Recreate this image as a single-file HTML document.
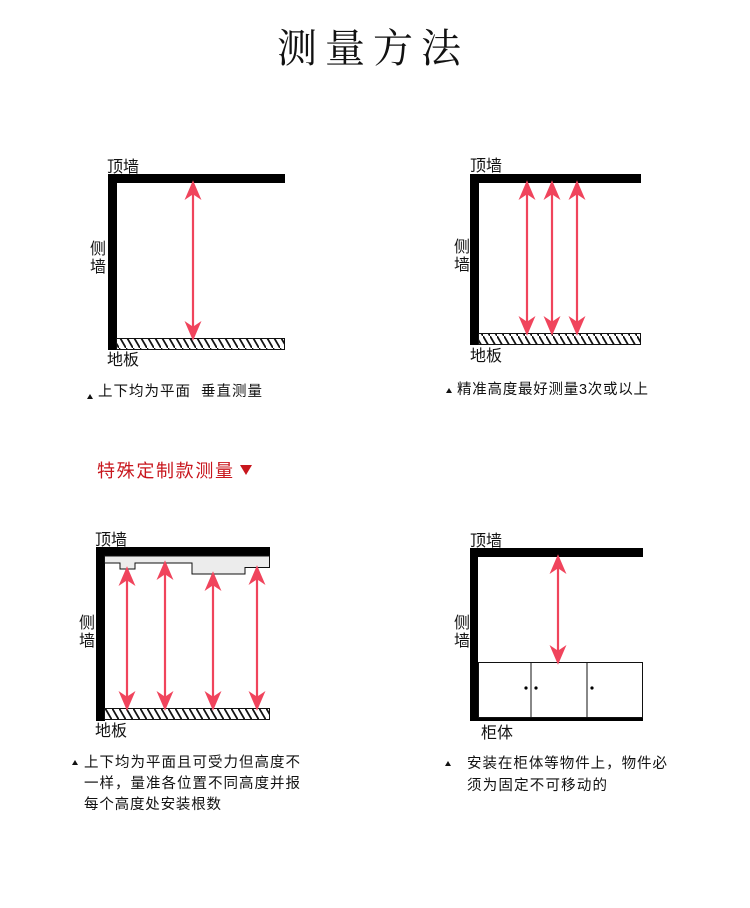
<!DOCTYPE html>
<html><head><meta charset="utf-8"><style>
html,body{margin:0;padding:0;background:#fff;}
svg{display:block;}
text{font-family:"Liberation Sans","Noto Sans CJK SC",sans-serif;fill:#111;}
</style></head><body>
<svg width="750" height="908" viewBox="0 0 750 908" xmlns="http://www.w3.org/2000/svg">
<defs>
<pattern id="h" width="7" height="12" patternUnits="userSpaceOnUse">
<line x1="-1" y1="-1.7" x2="8" y2="13.7" stroke="#111" stroke-width="1.8"/>
</pattern>
</defs>
<rect width="750" height="908" fill="#fff"/>
<text x="373" y="62" text-anchor="middle" style="font-family:'Noto Serif CJK SC',serif;font-size:40px;letter-spacing:8px;" fill="#111">测量方法</text>

<!-- Panel 1 -->
<g>
<rect x="108" y="174" width="177" height="9" fill="#000"/>
<rect x="108" y="174" width="9" height="176" fill="#000"/>
<rect x="116.5" y="338.5" width="168" height="11" fill="url(#h)" stroke="#111" stroke-width="1"/>
<g stroke="#f0445c" stroke-width="2.2" fill="#f0445c">
<line x1="193" y1="190" x2="193" y2="331"/>
<polygon points="193,183 187,197 193,193 199,197"/>
<polygon points="193,338 187,324 193,328 199,324"/>
</g>
<text x="107" y="172" font-size="16">顶墙</text>
<text x="90" y="254" font-size="16">侧</text>
<text x="90" y="272" font-size="16">墙</text>
<text x="107" y="365" font-size="16">地板</text>
<polygon points="90,394 87,399 93,399" fill="#111"/>
<text x="98" y="396" font-size="14.5" textLength="164" xml:space="preserve">上下均为平面  垂直测量</text>
</g>

<!-- Panel 2 -->
<g>
<rect x="470" y="174" width="171" height="9" fill="#000"/>
<rect x="470" y="174" width="9" height="171" fill="#000"/>
<rect x="478.5" y="333.5" width="162" height="11" fill="url(#h)" stroke="#111" stroke-width="1"/>
<g stroke="#f0445c" stroke-width="2.2" fill="#f0445c">
<line x1="527" y1="190" x2="527" y2="326"/>
<polygon points="527,183 521,197 527,193 533,197"/><polygon points="527,333 521,319 527,323 533,319"/>
<line x1="552" y1="190" x2="552" y2="326"/>
<polygon points="552,183 546,197 552,193 558,197"/><polygon points="552,333 546,319 552,323 558,319"/>
<line x1="577" y1="190" x2="577" y2="326"/>
<polygon points="577,183 571,197 577,193 583,197"/><polygon points="577,333 571,319 577,323 583,319"/>
</g>
<text x="470" y="171" font-size="16">顶墙</text>
<text x="454" y="252" font-size="16">侧</text>
<text x="454" y="270" font-size="16">墙</text>
<text x="470" y="361" font-size="16">地板</text>
<polygon points="449,388 446,393 452,393" fill="#111"/>
<text x="457" y="394" font-size="14.5" textLength="191">精准高度最好测量3次或以上</text>
</g>

<!-- Red heading -->
<text x="97" y="477" font-size="18" style="fill:#c8161d" textLength="136">特殊定制款测量</text>
<polygon points="240,465 252,465 246,475" fill="#c8161d"/>

<!-- Panel 3 -->
<g>
<rect x="96" y="547" width="174" height="9" fill="#000"/>
<rect x="96" y="547" width="9" height="174" fill="#000"/>
<path d="M104.5,556 L269.5,556 L269.5,567.5 L245,567.5 L245,574 L192,574 L192,563 L135,563 L135,569 L120,569 L120,563 L104.5,563 Z" fill="#ececec" stroke="#111" stroke-width="1"/>
<rect x="104.5" y="708.5" width="165" height="11" fill="url(#h)" stroke="#111" stroke-width="1"/>
<g stroke="#f0445c" stroke-width="2.2" fill="#f0445c">
<line x1="127" y1="576" x2="127" y2="701"/>
<polygon points="127,569 121,583 127,579 133,583"/><polygon points="127,708 121,694 127,698 133,694"/>
<line x1="165" y1="570" x2="165" y2="701"/>
<polygon points="165,563 159,577 165,573 171,577"/><polygon points="165,708 159,694 165,698 171,694"/>
<line x1="213" y1="581" x2="213" y2="701"/>
<polygon points="213,574 207,588 213,584 219,588"/><polygon points="213,708 207,694 213,698 219,694"/>
<line x1="257" y1="575" x2="257" y2="701"/>
<polygon points="257,568 251,582 257,578 263,582"/><polygon points="257,708 251,694 257,698 263,694"/>
</g>
<text x="95" y="545" font-size="16">顶墙</text>
<text x="79" y="628" font-size="16">侧</text>
<text x="79" y="646" font-size="16">墙</text>
<text x="95" y="736" font-size="16">地板</text>
<polygon points="75,760 72,765 78,765" fill="#111"/>
<text x="84" y="767" font-size="14.5" textLength="216">上下均为平面且可受力但高度不</text>
<text x="84" y="788" font-size="14.5" textLength="216">一样，量准各位置不同高度并报</text>
<text x="84" y="809" font-size="14.5" textLength="137">每个高度处安装根数</text>
</g>

<!-- Panel 4 -->
<g>
<rect x="470" y="548" width="173" height="9" fill="#000"/>
<rect x="470" y="548" width="8" height="173" fill="#000"/>
<rect x="478" y="717" width="165" height="4" fill="#000"/>
<rect x="478.5" y="662.5" width="164" height="55" fill="#fff" stroke="#111" stroke-width="1"/>
<line x1="531" y1="662" x2="531" y2="717" stroke="#111" stroke-width="1"/>
<line x1="587" y1="662" x2="587" y2="717" stroke="#111" stroke-width="1"/>
<circle cx="526" cy="688" r="1.6" fill="#000"/>
<circle cx="536" cy="688" r="1.6" fill="#000"/>
<circle cx="592" cy="688" r="1.6" fill="#000"/>
<g stroke="#f0445c" stroke-width="2.2" fill="#f0445c">
<line x1="558" y1="564" x2="558" y2="655"/>
<polygon points="558,557 552,571 558,567 564,571"/><polygon points="558,662 552,648 558,652 564,648"/>
</g>
<text x="470" y="546" font-size="16">顶墙</text>
<text x="454" y="628" font-size="16">侧</text>
<text x="454" y="646" font-size="16">墙</text>
<text x="481" y="738" font-size="16">柜体</text>
<polygon points="448,761 445,766 451,766" fill="#111"/>
<text x="467" y="768" font-size="14.5" textLength="200">安装在柜体等物件上，物件必</text>
<text x="467" y="790" font-size="14.5" textLength="140">须为固定不可移动的</text>
</g>
</svg>
</body></html>
